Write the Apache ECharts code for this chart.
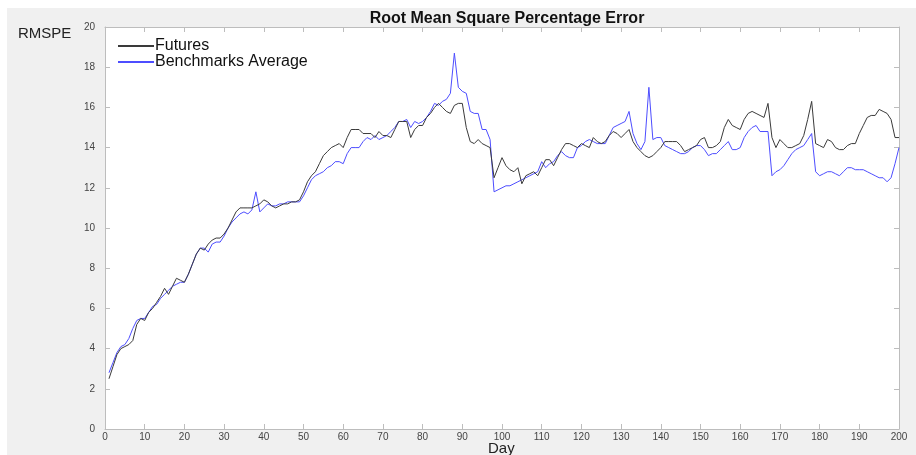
<!DOCTYPE html>
<html>
<head>
<meta charset="utf-8">
<script src="https://cdn.jsdelivr.net/npm/echarts@6/dist/echarts.min.js"></script>
<style>
  body { margin: 0; background: #fff; }
  #bg { position: absolute; left: 7px; top: 8px; width: 909px; height: 447px; background: #f0f0f0; }
  #chart { position: absolute; left: 0; top: 0; width: 916px; height: 455px; }
</style>
</head>
<body>
<div id="bg"></div>
<div id="chart"></div>
<script>
// RMSPE per day
const days = [];
for (let d = 1; d <= 200; d++) days.push(d);

const futures = [
  2.5, 3.1, 3.7, 4.0, 4.1, 4.2, 4.4, 5.2, 5.5, 5.4,
  5.8, 6.0, 6.3, 6.6, 7.0, 6.7, 7.1, 7.5, 7.4, 7.3,
  7.7, 8.2, 8.7, 9.0, 8.9, 9.2, 9.4, 9.5, 9.5, 9.7,
  10.0, 10.4, 10.8, 11.0, 11.0, 11.0, 11.0, 11.1, 11.2, 11.4,
  11.3, 11.1, 11.0, 11.1, 11.2, 11.2, 11.3, 11.3, 11.4, 11.8,
  12.3, 12.6, 12.8, 13.2, 13.6, 13.8, 14.0, 14.1, 14.2, 14.0,
  14.5, 14.9, 14.9, 14.9, 14.7, 14.7, 14.7, 14.5, 14.8, 14.6,
  14.6, 14.5, 14.9, 15.3, 15.3, 15.3, 14.5, 14.9, 15.1, 15.1,
  15.5, 15.7, 16.0, 16.2, 16.0, 15.8, 15.7, 16.1, 16.2, 16.2,
  15.0, 14.3, 14.2, 14.4, 14.2, 14.1, 14.0, 12.5, 13.0, 13.5,
  13.1, 12.9, 12.8, 13.0, 12.2, 12.6, 12.7, 12.8, 12.6, 13.0,
  13.4, 13.4, 13.1, 13.5, 13.9, 14.2, 14.2, 14.1, 14.0, 14.2,
  14.1, 14.0, 14.5, 14.3, 14.2, 14.3, 14.6, 14.8, 14.7, 14.5,
  14.7, 14.9, 14.3, 14.0, 13.8, 13.6, 13.5, 13.6, 13.8, 14.0,
  14.3, 14.3, 14.3, 14.3, 14.1, 13.8, 13.9, 14.0, 14.1, 14.4,
  14.5, 14.0, 14.0, 14.1, 14.3, 15.0, 15.4, 15.1, 15.0, 14.9,
  15.4, 15.7, 15.8, 15.7, 15.6, 15.5, 16.2, 14.5, 14.0, 14.4,
  14.2, 14.0, 14.0, 14.1, 14.2, 14.6, 15.4, 16.3, 14.2, 14.1,
  14.0, 14.4, 14.3, 14.0, 13.9, 13.9, 14.1, 14.2, 14.2, 14.7,
  15.1, 15.5, 15.6, 15.6, 15.9, 15.8, 15.7, 15.4, 14.5, 14.5,
];

const benchmarks = [
  2.8, 3.3, 3.8, 4.1, 4.2, 4.5, 5.0, 5.4, 5.5, 5.5,
  5.8, 6.1, 6.2, 6.5, 6.7, 6.9, 7.1, 7.2, 7.3, 7.3,
  7.7, 8.2, 8.7, 9.0, 9.0, 8.8, 9.2, 9.3, 9.3, 9.6,
  10.0, 10.3, 10.5, 10.7, 10.8, 10.7, 10.9, 11.8, 10.8, 11.0,
  11.2, 11.1, 11.1, 11.2, 11.2, 11.3, 11.3, 11.3, 11.3, 11.6,
  12.0, 12.4, 12.6, 12.7, 12.8, 13.0, 13.1, 13.3, 13.3, 13.2,
  13.7, 14.0, 14.0, 14.0, 14.3, 14.5, 14.4, 14.6, 14.4, 14.5,
  14.6, 14.8, 15.0, 15.3, 15.3, 15.4, 15.0, 15.3, 15.2, 15.3,
  15.5, 15.8, 16.2, 16.1, 16.3, 16.4, 16.7, 18.7, 17.0, 16.8,
  16.7, 15.8, 15.7, 15.7, 14.9, 14.9, 14.4, 11.8, 11.9, 12.0,
  12.1, 12.1, 12.2, 12.3, 12.4, 12.5, 12.6, 12.7, 12.8, 13.3,
  13.0, 13.2, 13.3, 13.6, 13.8, 13.6, 13.5, 13.5, 14.0, 14.1,
  14.3, 14.4, 14.3, 14.2, 14.2, 14.2, 14.6, 15.0, 15.1, 15.2,
  15.3, 15.8, 14.7, 14.2, 13.9, 14.3, 17.0, 14.4, 14.5, 14.5,
  14.1, 14.0, 13.9, 13.8, 13.7, 13.7, 13.8, 14.0, 14.1, 14.1,
  13.9, 13.6, 13.7, 13.7, 13.9, 14.1, 14.3, 13.9, 13.9, 14.0,
  14.5, 14.8, 15.0, 15.1, 14.8, 14.8, 14.8, 12.6, 12.8, 12.9,
  13.1, 13.4, 13.7, 13.9, 14.0, 14.1, 14.4, 14.7, 12.8, 12.6,
  12.7, 12.8, 12.8, 12.7, 12.6, 12.8, 13.0, 13.0, 12.9, 12.9,
  12.9, 12.8, 12.7, 12.6, 12.5, 12.5, 12.3, 12.5, 13.2, 14.0,
];

const seriesNames = ["Futures", "Benchmarks Average"];

const font = "'Liberation Sans', Arial, sans-serif";
const axisGray = "#bdbdbd";
const labelGray = "#444";

let chart = echarts.init(document.getElementById("chart"));

function pairs(values) {
  return values.map((v, i) => [days[i], v]);
}

const boxAxis = {
  axisLine: { show: true, onZero: false, lineStyle: { color: axisGray, width: 1 } },
  axisTick: { show: true, inside: true, length: 5, lineStyle: { color: axisGray } },
  splitLine: { show: false },
};

let option = {
  animation: false,
  textStyle: { fontFamily: font },
  title: {
    text: "Root Mean Square Percentage Error",
    left: 502,
    textAlign: "center",
    top: 6,
    textStyle: { fontSize: 16, fontWeight: "bold", color: "#111", fontFamily: font },
  },
  legend: {
    data: seriesNames,
    orient: "vertical",
    left: 113,
    top: 33,
    itemGap: 0,
    itemWidth: 36,
    itemHeight: 2,
    icon: "rect",
    textStyle: { fontSize: 16, color: "#111", fontFamily: font, padding: [0, 0, 0, -4] },
  },
  grid: {
    left: 105,
    right: 17,
    top: 27,
    bottom: 26,
    outerBoundsMode: "none",
    show: true,
    backgroundColor: "#fff",
    borderWidth: 0,
  },
  xAxis: [
    Object.assign({}, boxAxis, {
      type: "value",
      min: 0,
      max: 200,
      interval: 10,
      axisLabel: { fontSize: 10, color: labelGray, margin: 3 },
    }),
    Object.assign({}, boxAxis, {
      type: "value",
      position: "top",
      min: 0,
      max: 200,
      interval: 10,
      axisLabel: { show: false },
    }),
  ],
  yAxis: [
    Object.assign({}, boxAxis, {
      type: "value",
      min: 0,
      max: 20,
      interval: 2,
      axisLabel: { fontSize: 10, color: labelGray, margin: 10 },
    }),
    Object.assign({}, boxAxis, {
      type: "value",
      position: "right",
      min: 0,
      max: 20,
      interval: 2,
      axisLabel: { show: false },
    }),
  ],
  graphic: [
    {
      type: "text",
      left: 18,
      top: 26,
      style: { text: "RMSPE", fontSize: 15, fill: "#222", fontFamily: font },
    },
    {
      type: "text",
      left: 488,
      top: 441,
      style: { text: "Day", fontSize: 15, fill: "#222", fontFamily: font },
    },
  ],
  series: [
    {
      name: seriesNames[0],
      type: "line",
      data: pairs(futures),
      showSymbol: false,
      lineStyle: { color: "#3a3a3a", width: 1 },
      itemStyle: { color: "#3a3a3a" },
      z: 3,
    },
    {
      name: seriesNames[1],
      type: "line",
      data: pairs(benchmarks),
      showSymbol: false,
      lineStyle: { color: "#4d4dff", width: 1 },
      itemStyle: { color: "#4d4dff" },
      z: 2,
    },
  ],
};

chart.setOption(option);
</script>
</body>
</html>
